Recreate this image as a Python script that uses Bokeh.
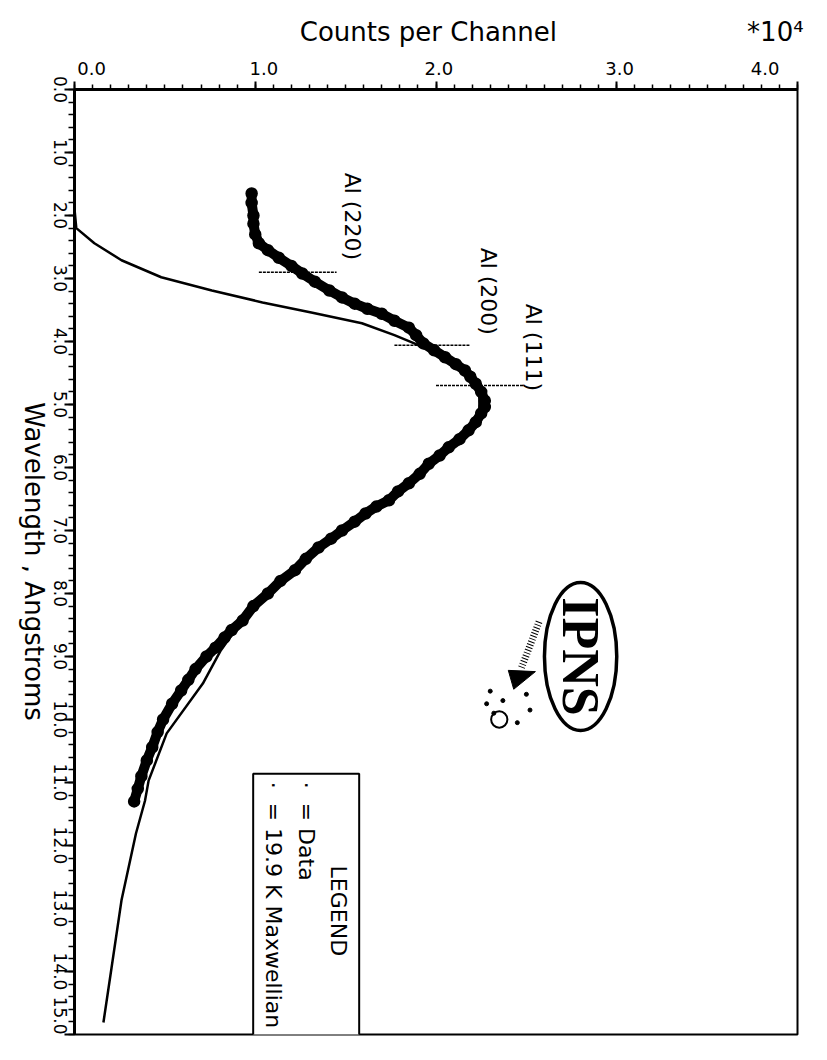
import math
import numpy as np
from bokeh.plotting import figure
from bokeh.models import Range1d, FixedTicker, PrintfTickFormatter, Label, LinearAxis
from bokeh.core.properties import value
from bokeh.embed import file_html
from bokeh.resources import INLINE

# ---------------- data ----------------
# measured spectrum: wavelength (Angstrom) and counts per channel (x 10^4)
data_wavelength = [1.65, 1.80, 2.00, 2.13, 2.30, 2.44, 2.55, 2.67, 2.80, 2.92,
                   3.05, 3.19, 3.30, 3.40, 3.48, 3.56, 3.67, 3.78, 3.90, 4.03,
                   4.14, 4.25, 4.36, 4.46, 4.56, 4.67, 4.80, 4.94, 5.04, 5.14,
                   5.28, 5.41, 5.55, 5.68, 5.81, 5.94, 6.10, 6.25, 6.38, 6.52,
                   6.62, 6.73, 6.86, 7.00, 7.13, 7.27, 7.45, 7.63, 7.80, 8.00,
                   8.20, 8.43, 8.58, 8.70, 8.86, 9.00, 9.20, 9.37, 9.54, 9.75,
                   10.00, 10.20, 10.44, 10.65, 10.90, 11.10, 11.30]
data_counts = [0.98, 0.98, 0.99, 0.99, 1.00, 1.02, 1.07, 1.13, 1.20, 1.26,
               1.33, 1.41, 1.48, 1.55, 1.62, 1.70, 1.77, 1.85, 1.89, 1.93,
               1.99, 2.05, 2.11, 2.16, 2.19, 2.22, 2.25, 2.27, 2.27, 2.25,
               2.22, 2.18, 2.13, 2.07, 2.02, 1.96, 1.91, 1.85, 1.79, 1.74,
               1.67, 1.61, 1.55, 1.48, 1.42, 1.35, 1.28, 1.22, 1.14, 1.07,
               0.99, 0.93, 0.87, 0.83, 0.78, 0.73, 0.67, 0.63, 0.59, 0.54,
               0.49, 0.46, 0.43, 0.40, 0.37, 0.35, 0.33]

# 19.9 K Maxwellian
max_wavelength = [1.90, 2.20, 2.44, 2.71, 2.98, 3.19, 3.38, 3.54, 3.71, 3.90,
                  4.03, 4.20, 4.40, 4.62, 4.85, 5.10, 5.40, 5.70, 6.00, 6.50,
                  7.00, 7.50, 8.00, 8.50, 8.90, 9.43, 10.22, 10.97, 11.29, 11.81,
                  12.87, 13.94, 14.81]
max_counts = [0.00, 0.01, 0.11, 0.26, 0.48, 0.76, 1.04, 1.31, 1.59, 1.77,
              1.88, 2.01, 2.12, 2.19, 2.24, 2.24, 2.17, 2.06, 1.94, 1.75,
              1.49, 1.27, 1.08, 0.91, 0.81, 0.71, 0.51, 0.41, 0.39, 0.34,
              0.26, 0.205, 0.16]

# Bragg edges of aluminium
edge_names = ["Al (220)", "Al (200)", "Al (111)"]
edge_wavelength = [2.90, 4.06, 4.70]
edge_count_start = [1.02, 1.77, 2.00]
edge_count_end = [1.45, 2.19, 2.49]

# axis ticks, tick labels and titles
count_ticks = [0, 1, 2, 3, 4]
count_tick_labels = ["0.0", "1.0", "2.0", "3.0", "4.0"]
wavelength_ticks = list(range(16))
wavelength_tick_labels = ["0.0", "1.0", "2.0", "3.0", "4.0", "5.0", "6.0", "7.0",
                          "8.0", "9.0", "10.0", "11.0", "12.0", "13.0", "14.0",
                          "15.0"]
count_title = "Counts per Channel"
count_scale = "*10\u2074"
wavelength_title = "Wavelength , Angstroms"
wavelength_title_end = 10.02

FONT = "DejaVu Sans"
DOWN = -math.pi / 2
NB = "\u00a0"
TICK_FONT_PX = 17


def bare(ax):
    ax.axis_line_color = None
    ax.major_tick_line_color = None
    ax.minor_tick_line_color = None
    ax.major_tick_out = 0
    ax.major_tick_in = 0
    ax.minor_tick_out = 0
    ax.minor_tick_in = 0


p = figure(width=819, height=1052, output_backend="svg", toolbar_location=None,
           x_range=Range1d(0, 4), y_range=Range1d(15, 0),
           x_axis_location="above", y_axis_location="left",
           min_border_left=73, min_border_top=89, min_border_right=22,
           min_border_bottom=18)
p.background_fill_color = "white"
p.border_fill_color = "white"
p.outline_line_color = "black"
p.outline_line_width = 2
p.xgrid.visible = False
p.ygrid.visible = False

# ---- top axis (counts) ----
xa = p.xaxis[0]
xa.ticker = FixedTicker(ticks=count_ticks,
                        minor_ticks=list(np.round(np.arange(0, 4.001, 0.1), 2)))
xa.formatter = PrintfTickFormatter(format="%.1f")
pads_x = [(6, 0), (3, 0), (1, 0), (1, 0), (0, 7)]
xa.major_label_overrides = {t: NB * a + lab + NB * b
                            for t, lab, (a, b) in zip(count_ticks, count_tick_labels, pads_x)}
xa.axis_line_width = 3
xa.major_tick_out = 8
xa.major_tick_in = 0
xa.minor_tick_out = 5
xa.minor_tick_in = 0
xa.major_tick_line_width = 2
xa.minor_tick_line_width = 1.5
xa.major_label_text_font = FONT
xa.major_label_text_font_size = "18px"
xa.major_label_text_color = "black"
xa.major_label_standoff = 3
xa.axis_label = NB * 28 + count_title + NB * 23 + count_scale
xa.axis_label_text_font = FONT
xa.axis_label_text_font_size = "26px"
xa.axis_label_text_font_style = "normal"
xa.axis_label_text_color = "black"
xa.axis_label_standoff = 8

# ---- left axis (wavelength): ticks only ----
ya = p.yaxis[0]
ya.ticker = FixedTicker(ticks=wavelength_ticks,
                        minor_ticks=list(np.round(np.arange(0, 15.001, 0.2), 2)))
ya.axis_line_width = 3
ya.major_tick_out = 10
ya.major_tick_in = 0
ya.minor_tick_out = 6
ya.minor_tick_in = 0
ya.major_tick_line_width = 2
ya.minor_tick_line_width = 1.5
ya.major_label_text_font_size = "0px"
ya.major_label_text_color = None
ya.major_label_standoff = 0

# ---- left axis labels, read downwards and centred on ticks ----
shift = (2.226 * TICK_FONT_PX / 2.0) / 63.0
lab_start = 15 - shift
p.extra_y_ranges = {"lab": Range1d(lab_start, -shift)}
lab_positions = [t if t < 15 else lab_start for t in wavelength_ticks]
lab_axis = LinearAxis(y_range_name="lab",
                      ticker=FixedTicker(ticks=lab_positions, minor_ticks=[]))
lab_axis.major_label_overrides = {t: lab + (NB if len(lab) == 3 else "")
                                  for t, lab in zip(lab_positions, wavelength_tick_labels)}
bare(lab_axis)
lab_axis.major_label_text_font = FONT
lab_axis.major_label_text_font_size = f"{TICK_FONT_PX}px"
lab_axis.major_label_text_color = "black"
lab_axis.major_label_orientation = DOWN
lab_axis.major_label_standoff = 5
p.add_layout(lab_axis, "left")

# ---- wavelength title, written downwards like the reference ----
title_axis = LinearAxis(ticker=FixedTicker(ticks=[wavelength_title_end], minor_ticks=[]))
title_axis.major_label_overrides = {wavelength_title_end: wavelength_title}
bare(title_axis)
title_axis.major_label_text_font = FONT
title_axis.major_label_text_font_size = "26px"
title_axis.major_label_text_color = "black"
title_axis.major_label_orientation = DOWN
title_axis.major_label_standoff = 3
p.add_layout(title_axis, "left")

# ---- Maxwellian ----
p.line(max_counts, max_wavelength, line_color="black", line_width=2.5)

# ---- data: dense open-circle band ----
p.line(data_counts, data_wavelength, line_color="black", line_width=10,
       line_join="round", line_cap="round")
p.scatter(data_counts, data_wavelength, marker="circle", size=11,
          fill_color="black", line_color="black", line_width=1.5)

# ---- Bragg edges ----
p.segment(x0=edge_count_start, y0=edge_wavelength, x1=edge_count_end,
          y1=edge_wavelength, line_color="black", line_width=1.5,
          line_dash="3 1")
edge_label_x = [1.54, 2.29, 2.54]
edge_label_y = [1.32, 2.51, 3.40]
p.text(x=edge_label_x, y=edge_label_y, text=edge_names, angle=DOWN,
       text_align="left", text_baseline="middle", text_font=value(FONT),
       text_font_size="22px", text_color="black")

# ---- IPNS logo ----
logo_c, logo_wl = 2.80, 9.0
p.ellipse(x=[logo_c], y=[logo_wl], width=[0.40], height=[2.35],
          fill_color=None, line_color="black", line_width=3.5)
p.text(x=[logo_c], y=[logo_wl], text=["IPNS"], angle=DOWN,
       text_align="center", text_baseline="middle",
       text_font=value("Liberation Serif"), text_font_style="bold",
       text_font_size="52px", text_color="black")
p.line([2.57, 2.47], [8.45, 9.20], line_color="black", line_width=7,
       line_dash="1 2")
p.patch([2.40, 2.55, 2.43], [9.22, 9.24, 9.52], fill_color="black",
        line_color="black")
p.circle(x=[2.35], y=[10.0], radius=0.045, fill_color=None,
         line_color="black", line_width=2)
p.scatter(x=[2.30, 2.37, 2.50, 2.52, 2.45, 2.32, 2.28],
          y=[9.55, 9.70, 9.60, 9.85, 10.05, 9.90, 9.75],
          marker="circle", size=4, color="black")

# ---- legend box ----
legend_text = (NB * 12 + "LEGEND\n"
               + "\u00b7" + NB * 2 + "= Data\n"
               + "\u00b7" + NB * 2 + "= 19.9 K Maxwellian" + NB)
p.add_layout(Label(x=1.575, y=10.86, angle=DOWN, text=legend_text,
                   text_align="left", text_baseline="top", text_font=FONT,
                   text_font_size="22px", text_line_height=1.3,
                   text_color="black", background_fill_color="white",
                   border_line_color="black", border_line_width=2,
                   padding=8))

open("out.html", "w").write(file_html(p, INLINE))
